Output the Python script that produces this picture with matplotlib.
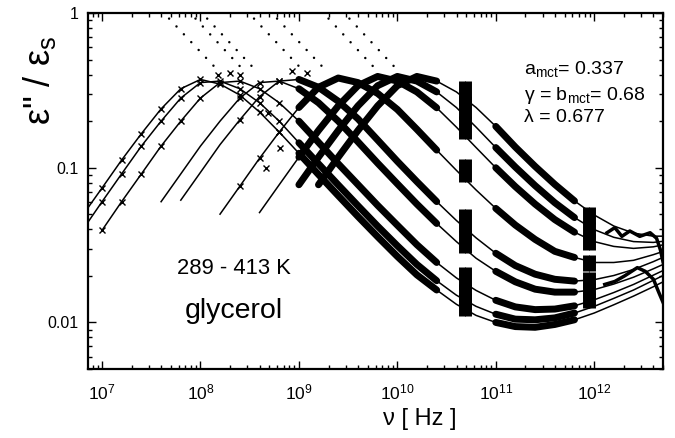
import numpy as np
import matplotlib
matplotlib.use('Agg')
import matplotlib.pyplot as plt
from matplotlib.ticker import LogLocator, NullFormatter, FixedLocator, FixedFormatter

plt.rcParams['font.family'] = ['Liberation Sans', 'DejaVu Sans']

# frequency nodes (Hz), 0.2 decade apart; each curve uses the last len(values) nodes
nu = np.array([6.31e6, 1.0e7, 1.58e7, 2.51e7, 3.98e7, 6.31e7, 1.0e8, 1.58e8, 2.51e8,
               3.98e8, 6.31e8, 1.0e9, 1.58e9, 2.51e9, 3.98e9, 6.31e9, 1.0e10, 1.58e10,
               2.51e10, 3.98e10, 6.31e10, 1.0e11, 1.58e11, 2.51e11, 3.98e11, 6.31e11,
               1.0e12, 1.58e12, 2.51e12, 3.98e12, 6.31e12])

# fitted eps''/eps_s, lowest temperature (289 K) first
fit_289 = [0.049, 0.074, 0.112, 0.166, 0.240, 0.324, 0.372, 0.347, 0.295, 0.229, 0.170,
           0.124, 0.0904, 0.066, 0.0484, 0.0358, 0.0267, 0.0203, 0.0162, 0.0131, 0.0111,
           0.0100, 0.0094, 0.0093, 0.0097, 0.0104, 0.0115, 0.0130, 0.0148, 0.0170, 0.0197]
fit_t2 = [0.0394, 0.0603, 0.0912, 0.138, 0.200, 0.282, 0.355, 0.363, 0.324, 0.263, 0.200,
          0.145, 0.106, 0.0774, 0.0568, 0.0419, 0.0313, 0.0237, 0.0186, 0.0150, 0.0127,
          0.0113, 0.0105, 0.0104, 0.0107, 0.0115, 0.0127, 0.0143, 0.0162, 0.0187, 0.0216]
fit_t3 = [0.0394, 0.0603, 0.0912, 0.138, 0.200, 0.282, 0.355, 0.363, 0.324, 0.263,
          0.200, 0.146, 0.106, 0.0778, 0.0571, 0.0425, 0.0318, 0.0244, 0.0194, 0.0161,
          0.0139, 0.0126, 0.0121, 0.0122, 0.0128, 0.0140, 0.0156, 0.0176, 0.0202, 0.0232]
fit_t4 = [0.0603, 0.0912, 0.138, 0.200, 0.282, 0.355, 0.363, 0.324, 0.263, 0.200, 0.147,
          0.107, 0.0787, 0.0582, 0.0436, 0.0333, 0.0260, 0.0214, 0.0183, 0.0164, 0.0157,
          0.0157, 0.0163, 0.0177, 0.0196, 0.0222, 0.0253]
fit_t5 = [0.0617, 0.0933, 0.141, 0.204, 0.288, 0.363, 0.372, 0.331, 0.269, 0.207, 0.151,
          0.110, 0.0813, 0.0604, 0.0456, 0.0352, 0.0280, 0.0233, 0.0205, 0.0190, 0.0185,
          0.0189, 0.0201, 0.0220, 0.0247, 0.0281]
fit_t6 = [0.0501, 0.0759, 0.115, 0.170, 0.245, 0.331, 0.380, 0.355, 0.302, 0.238, 0.177,
          0.130, 0.0962, 0.0718, 0.0546, 0.0426, 0.0344, 0.0288, 0.0263, 0.0244, 0.0244,
          0.0252, 0.0274, 0.0302]
fit_t7 = [0.0513, 0.0776, 0.117, 0.174, 0.251, 0.339, 0.389, 0.363, 0.309, 0.244, 0.183,
          0.135, 0.100, 0.0755, 0.0582, 0.0462, 0.0383, 0.0333, 0.0310, 0.0301, 0.0308,
          0.0327]
fit_t8 = [0.0776, 0.117, 0.174, 0.251, 0.339, 0.389, 0.363, 0.309, 0.245, 0.183, 0.135,
          0.101, 0.0766, 0.0594, 0.0476, 0.0398, 0.0355, 0.0333, 0.0329, 0.0340]
fit_413 = [0.0776, 0.117, 0.174, 0.251, 0.339, 0.389, 0.363, 0.309, 0.245, 0.185, 0.136,
           0.102, 0.0780, 0.0610, 0.0495, 0.0420, 0.0378, 0.0361, 0.0361]
curves = [fit_289, fit_t2, fit_t3, fit_t4, fit_t5, fit_t6, fit_t7, fit_t8, fit_413]

# frequency windows of the measurements
coax_range = (9.0e8, 2.6e10)
wg_range = (9.0e10, 7.0e11)
blob_nu = [4.5e10, 5.2e10]
bar_nu = [8.2e11, 9.4e11]

# terahertz data
thz_a_nu = [1.35e12, 1.62e12, 1.91e12, 2.3e12, 2.9e12, 3.7e12, 4.3e12, 4.7e12, 5.0e12]
thz_a_val = [0.038, 0.041, 0.036, 0.039, 0.036, 0.038, 0.035, 0.0295, 0.0247]
thz_b_nu = [1.28e12, 1.62e12, 2.04e12, 2.74e12, 3.3e12, 4.0e12, 4.5e12, 5.0e12]
thz_b_val = [0.0176, 0.0184, 0.020, 0.0226, 0.0214, 0.019, 0.0158, 0.0135]

# loose data points near the peaks
stray_nu = [1.5e8, 2.0e8, 2.5e8, 4.6e8, 4.8e8, 6.5e8, 8.5e8, 1.2e9]
stray_val = [0.40, 0.41, 0.40, 0.10, 0.225, 0.135, 0.42, 0.41]

# dotted von Schweidler lines
dot_top, dot_bottom = 0.92, 0.43
dot_start_nu = [4.8e7, 8.9e7, 1.17e8, 3.5e8, 6.0e8, 2.0e9, 3.26e9]
dot_end_nu = [1.48e8, 2.71e8, 3.59e8, 1.08e9, 1.85e9, 6.1e9, 9.95e9]

fig = plt.figure(figsize=(6.75, 4.38), dpi=100)
ax = fig.add_axes([88 / 675, 1 - 369 / 438, 575 / 675, 356 / 438])
ax.set_xscale('log')
ax.set_yscale('log')

for k, vals in enumerate(curves):
    v = np.array(vals)
    f = nu[-len(v):]
    ax.plot(f, v, color='black', lw=1.1, zorder=3)
    # dense measured data
    for lo, hi in (coax_range, wg_range):
        m = (f >= lo) & (f <= hi)
        ax.plot(f[m], v[m], color='black', lw=5, solid_capstyle='round', zorder=2)
    i = list(f).index(3.98e10)
    for bn in blob_nu:
        ax.vlines(bn, v[i] * 0.84, v[i] * 1.18, color='black', lw=5, zorder=2)
    if k >= 2:
        j = list(f).index(1.0e12)
        for bn in bar_nu:
            ax.vlines(bn, v[j] * 0.88, v[j] * 1.12, color='black', lw=5, zorder=2)
    # crosses at low frequency
    if k < 3:
        m = f < 9.0e8
    elif k < 6:
        m = (f > 2.4e8) & (f < 1.0e9)
    else:
        m = np.zeros(len(f), bool)
    ax.plot(f[m], v[m], 'x', color='black', ms=5, mew=1.0, zorder=4)

ax.plot(stray_nu, stray_val, 'x', color='black', ms=5, mew=1.0, zorder=4)
ax.plot(thz_a_nu, thz_a_val, color='black', lw=2.5, zorder=2)
ax.plot(thz_b_nu, thz_b_val, color='black', lw=2.5, zorder=2)

for s, e in zip(dot_start_nu, dot_end_nu):
    ax.plot([s, e], [dot_top, dot_bottom], color='black', lw=1.8,
            dashes=(0.01, 4.3), dash_capstyle='round', zorder=3)

ax.set_xlim(7.2e6, 5.0e12)
ax.set_ylim(0.005, 1.0)

ax.xaxis.set_major_locator(LogLocator(base=10, numticks=20))
ax.xaxis.set_minor_locator(LogLocator(base=10, subs=np.arange(2, 10), numticks=20))
ax.xaxis.set_minor_formatter(NullFormatter())
ax.yaxis.set_major_locator(FixedLocator([0.01, 0.1, 1]))
ax.yaxis.set_major_formatter(FixedFormatter(['0.01', '0.1', '1']))
ax.yaxis.set_minor_locator(LogLocator(base=10, subs=np.arange(2, 10), numticks=20))
ax.yaxis.set_minor_formatter(NullFormatter())

ax.tick_params(which='both', direction='in', top=True, right=True, width=1.0)
ax.tick_params(which='major', length=5.5)
ax.tick_params(which='minor', length=3)
ax.tick_params(axis='x', which='major', labelsize=12.5, pad=10)
ax.tick_params(axis='y', which='major', labelsize=11.5, pad=7)
for sp in ax.spines.values():
    sp.set_linewidth(1.6)

fig.text(40 / 675, 1 - 80 / 438, 'ε" / ε$_\\mathregular{s}$', rotation=90,
         ha='center', va='center', fontsize=26)
fig.text(420 / 675, 1 - 425 / 438, 'ν [ Hz ]', ha='center', va='baseline', fontsize=17)

fig.text(524 / 675, 1 - 75 / 438, 'a$_\\mathregular{mct}$= 0.337', fontsize=14, va='baseline')
fig.text(524 / 675, 1 - 100 / 438, 'γ = b$_\\mathregular{mct}$= 0.68', fontsize=14, va='baseline')
fig.text(524 / 675, 1 - 122 / 438, 'λ = 0.677', fontsize=14, va='baseline')
fig.text(177 / 675, 1 - 274 / 438, '289 - 413 K', fontsize=15.8, va='baseline')
fig.text(185 / 675, 1 - 318 / 438, 'glycerol', fontsize=20.5, va='baseline')

fig.savefig('out.png', dpi=100)
